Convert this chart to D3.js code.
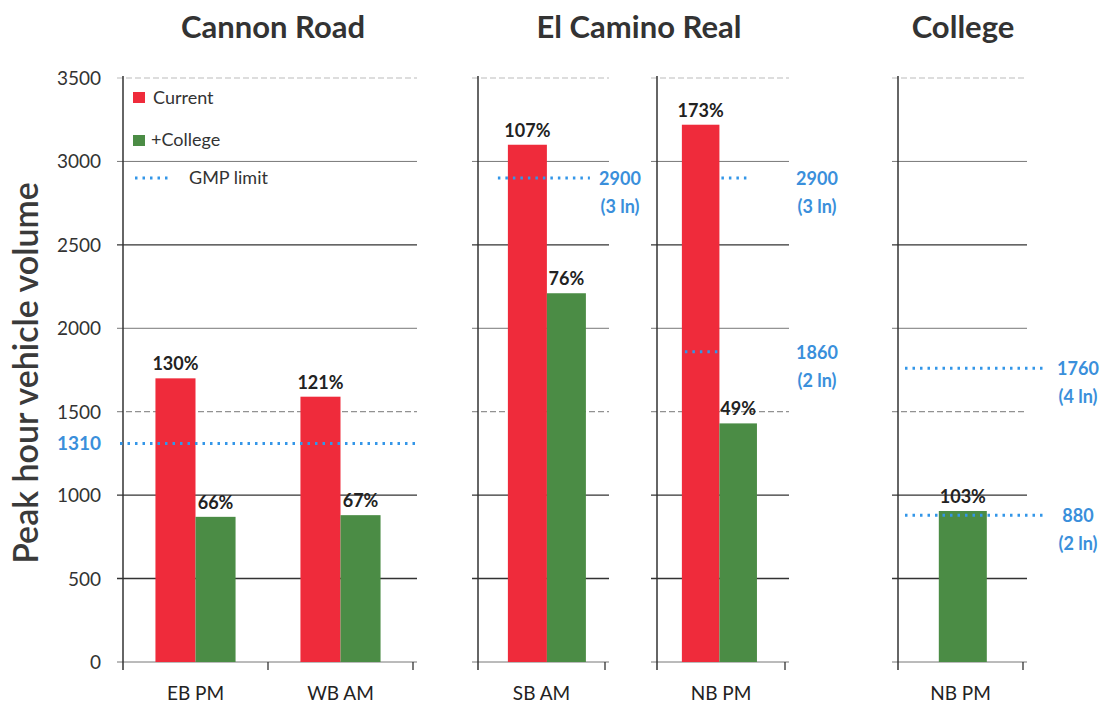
<!DOCTYPE html>
<html>
<head>
<meta charset="utf-8">
<script src="https://cdn.jsdelivr.net/npm/d3@7"></script>
<style>
  html, body { margin: 0; padding: 0; background: #fff; }
  svg { display: block; font-family: Lato, "Open Sans", sans-serif; }
</style>
</head>
<body>
<svg id="chart" width="1109" height="707"></svg>
<script>
// ---------- data ----------
const groupTitles = ["Cannon Road", "El Camino Real", "College"];
const categories = ["EB PM", "WB AM", "SB AM", "NB PM", "NB PM "];
const currentValues = [1700, 1590, 3100, 3220, null];
const collegeValues = [870, 880, 2210, 1430, 905];
const currentLabels = ["130%", "121%", "107%", "173%", null];
const collegeLabels = ["66%", "67%", "76%", "49%", "103%"];
const yTicks = [0, 500, 1000, 1500, 2000, 2500, 3000, 3500];
const limitValues = [1310, 2900, 2900, 1860, 1760, 880];
const limitLanes = [null, "(3 ln)", "(3 ln)", "(2 ln)", "(4 ln)", "(2 ln)"];
const limitPanel = [0, 1, 2, 2, 3, 3];
const limitSpan = ["panel", "both", "college", "current", "panel", "panel"];
const legendLabels = ["Current", "+College", "GMP limit"];

// ---------- layout ----------
const RED = "#ef2b3b", GREEN = "#4b8c45", BLUE = "#3396e8", LBLUE = "#3a8fdb";
const svg = d3.select("#chart");
const y = d3.scaleLinear().domain([0, 3500]).range([662, 78]);

// panels: pixel extents, category indices, band padding / alignment
const panels = [
  { x0: 123, x1: 413, cats: [0, 1], pad: 0.81, align: 0.5, title: 0, tx: 273 },
  { x0: 478, x1: 605, cats: [2], pad: 0.628, align: 0.61, title: 1, tx: 639 },
  { x0: 657, x1: 785, cats: [3], pad: 0.705, align: 0.47, title: null },
  { x0: 898, x1: 1023, cats: [4], pad: 0.802, align: 0.53, title: 2, tx: 963 }
];

// titles
panels.forEach(p => {
  if (p.title === null) return;
  svg.append("text").attr("x", p.tx).attr("y", 38)
    .attr("text-anchor", "middle")
    .attr("font-size", 31).attr("font-weight", 700)
    .attr("fill", "#333")
    .attr("textLength", null)
    .text(groupTitles[p.title]);
});

// y label
svg.append("text")
  .attr("transform", "translate(38,373) rotate(-90)")
  .attr("text-anchor", "middle")
  .attr("font-size", 34).attr("font-weight", 600)
  .attr("fill", "#3a3a3a")
  .text("Peak hour vehicle volume");

// y tick labels (first panel only)
svg.append("g").selectAll("text").data(yTicks).join("text")
  .attr("x", 101).attr("y", d => y(d) + 7)
  .attr("text-anchor", "end").attr("font-size", 19)
  .attr("fill", "#333")
  .text(d => d);

const barLayouts = [];

panels.forEach((p, pi) => {
  const g = svg.append("g");
  const xb = d3.scaleBand().domain(p.cats).range([p.x0, p.x1]);
  // gridlines
  g.selectAll("line.grid").data(yTicks).join("line")
    .attr("x1", p.x0 - 6).attr("x2", p.x1 + 4)
    .attr("y1", d => y(d)).attr("y2", d => y(d))
    .attr("stroke", d => (d === 3500 ? "#bbb" : (d === 2500 || d === 1000 || d === 500 ? "#333" : "#777")))
    .attr("stroke-width", d => (d === 2500 || d === 1000 || d === 500 ? 1.4 : 1))
    .attr("stroke-dasharray", d => (d === 3500 || d === 1500 ? "6 3" : null));
  // vertical axis
  g.append("line").attr("x1", p.x0).attr("x2", p.x0)
    .attr("y1", y(3500) - 2).attr("y2", y(0) + 8)
    .attr("stroke", "#333").attr("stroke-width", 1.5);
  // bottom ticks at band boundaries
  const bounds = p.cats.map(c => xb(c)).concat([p.x1]);
  g.selectAll("line.tk").data(bounds.slice(1)).join("line")
    .attr("x1", d => d).attr("x2", d => d)
    .attr("y1", y(0)).attr("y2", y(0) + 8)
    .attr("stroke", "#333").attr("stroke-width", 1.3);

  p.cats.forEach(ci => {
    const series = [];
    if (currentValues[ci] !== null) series.push({ key: "current", v: currentValues[ci], lab: currentLabels[ci], c: RED });
    if (collegeValues[ci] !== null) series.push({ key: "college", v: collegeValues[ci], lab: collegeLabels[ci], c: GREEN });
    const xs = d3.scaleBand().domain(series.map(s => s.key))
      .range([xb(ci), xb(ci) + xb.bandwidth()]).paddingOuter(p.pad).paddingInner(0).align(p.align);
    const lay = {};
    series.forEach(s => { lay[s.key] = [xs(s.key), xs(s.key) + xs.bandwidth()]; });
    barLayouts[pi] = lay;
    g.selectAll("rect.b" + ci).data(series).join("rect")
      .attr("x", s => xs(s.key)).attr("width", xs.bandwidth())
      .attr("y", s => y(s.v)).attr("height", s => y(0) - y(s.v))
      .attr("fill", s => s.c);
    g.selectAll("text.l" + ci).data(series).join("text")
      .attr("x", s => xs(s.key) + xs.bandwidth() / 2)
      .attr("y", s => y(s.v) - 8)
      .attr("text-anchor", "middle").attr("font-size", 18).attr("font-weight", 700)
      .attr("fill", "#222").text(s => s.lab);
    // category label
    g.append("text").attr("x", xb(ci) + xb.bandwidth() / 2).attr("y", 700)
      .attr("text-anchor", "middle").attr("font-size", 19).attr("fill", "#222")
      .text(categories[ci].trim());
  });
});

// limit lines
limitValues.forEach((v, i) => {
  const p = panels[limitPanel[i]];
  const lay = barLayouts[limitPanel[i]];
  let xa, xz;
  if (limitSpan[i] === "panel") {
    xa = p.x0 - 3 + (limitPanel[i] === 3 ? 10 : 0);
    xz = p.x1 + (limitPanel[i] === 3 ? 22 : 2);
  } else if (limitSpan[i] === "both") {
    xa = lay.current[0] - 10; xz = lay.college[1] + 4;
  } else if (limitSpan[i] === "college") {
    xa = lay.college[0] + 2; xz = lay.college[1] - 6;
  } else {
    xa = lay.current[0] + 3; xz = lay.current[1] - 1;
  }
  svg.append("line").attr("x1", xa).attr("x2", xz)
    .attr("y1", y(v)).attr("y2", y(v))
    .attr("stroke", BLUE).attr("stroke-width", 3)
    .attr("stroke-dasharray", "2.5 5");
  if (limitLanes[i] === null) {
    svg.append("text").attr("x", 101).attr("y", y(v) + 7)
      .attr("text-anchor", "end").attr("font-size", 19).attr("font-weight", 700)
      .attr("fill", LBLUE).text(v);
  } else {
    const lx = limitPanel[i] === 3 ? p.x1 + 55 : (limitPanel[i] === 1 ? p.x1 + 15 : p.x1 + 32);
    svg.append("text").attr("x", lx).attr("y", y(v) + 7)
      .attr("text-anchor", "middle").attr("font-size", 18).attr("font-weight", 700)
      .attr("fill", LBLUE).text(v);
    svg.append("text").attr("x", lx).attr("y", y(v) + 35)
      .attr("text-anchor", "middle").attr("font-size", 18).attr("font-weight", 700)
      .attr("fill", LBLUE).text(limitLanes[i]);
  }
});

// legend
const lg = svg.append("g");
lg.append("rect").attr("x", 133).attr("y", 92).attr("width", 12).attr("height", 11).attr("fill", RED);
lg.append("rect").attr("x", 133).attr("y", 135).attr("width", 12).attr("height", 11).attr("fill", GREEN);
lg.append("line").attr("x1", 135).attr("x2", 172).attr("y1", 178).attr("y2", 178)
  .attr("stroke", BLUE).attr("stroke-width", 3).attr("stroke-dasharray", "2.5 5");
const lx = [153, 151, 189], ly = [104, 146, 184];
legendLabels.forEach((t, i) => {
  lg.append("text").attr("x", lx[i]).attr("y", ly[i]).attr("font-size", 18)
    .attr("fill", "#333").text(t);
});
</script>
</body>
</html>
